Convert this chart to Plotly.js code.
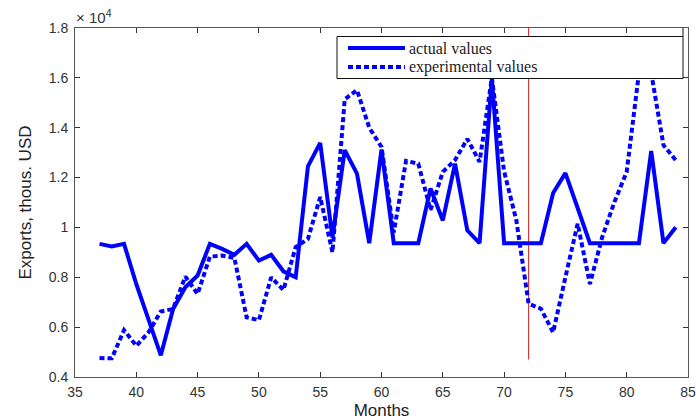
<!DOCTYPE html>
<html><head><meta charset="utf-8">
<script src="https://cdn.plot.ly/plotly-3.0.1.min.js"></script>
<style>body{margin:0;background:#fff}#chart{width:696px;height:420px}</style>
</head><body><div id="chart"></div>
<script>
const months = [37,38,39,40,41,42,43,44,45,46,47,48,49,50,51,52,53,54,55,56,57,58,59,60,61,62,63,64,65,66,67,68,69,70,71,72,73,74,75,76,77,78,79,80,81,82,83,84];
const actualValues = [9340,9240,9340,7730,6300,4870,6730,7600,8070,9340,9140,8900,9340,8670,8900,8240,8000,12450,13390,9600,13100,12160,9370,13130,9370,9370,9370,11560,10280,12560,9880,9370,16000,9370,9370,9370,9370,11380,12180,10780,9370,9370,9370,9370,9370,13070,9370,10010];
const experimentalValues = [4760,4750,5880,5250,5790,6630,6730,8030,7330,8830,8870,8780,6390,6280,8000,7490,9210,9540,11220,9000,15140,15510,14000,13230,9800,12670,12560,10700,12230,12700,13550,12630,16000,12250,10280,6940,6740,5790,8000,10150,7730,9610,11020,12230,16200,16200,13300,12700];
const seriesNames = ['actual values','experimental values'];
const xTickVals = [35,40,45,50,55,60,65,70,75,80,85];
const yTickVals = [4000,6000,8000,10000,12000,14000,16000,18000];
const yTickText = ['0.4','0.6','0.8','1','1.2','1.4','1.6','1.8'];
const markerMonths = [72,72];
const markerValues = [4700,18000];

// layout geometry (pixels)
const W = 696, H = 420, L = 75, R = 8, T = 28, B = 43;
const pw = W - L - R, ph = H - T - B;
const px = v => (v - L) / pw;
const py = v => (H - B - v) / ph;

const blue = '#0000ff';
const traces = [
  {x: markerMonths, y: markerValues, mode: 'lines', line: {color: 'rgb(215,30,30)', width: 1}, showlegend: false, hoverinfo: 'skip'},
  {x: months, y: actualValues, name: seriesNames[0], mode: 'lines', line: {color: blue, width: 4}},
  {x: months, y: experimentalValues, name: seriesNames[1], mode: 'lines', line: {color: blue, width: 4, dash: '5px,3px'}}
];

const axisCommon = {
  showgrid: false, zeroline: false, showline: true, linecolor: '#555', linewidth: 1,
  mirror: 'ticks', ticks: 'inside', ticklen: 5, tickcolor: '#333', tickwidth: 1,
  tickfont: {family: 'Liberation Sans, Arial, sans-serif', size: 14, color: '#333'}
};

const layout = {
  width: W, height: H,
  margin: {l: L, r: R, t: T, b: B, pad: 0},
  paper_bgcolor: '#fff', plot_bgcolor: '#fff',
  showlegend: false,
  xaxis: Object.assign({}, axisCommon, {
    range: [35, 85], tickvals: xTickVals, ticklabelstandoff: 2,
    title: {text: 'Months', font: {family: 'Liberation Sans, Arial, sans-serif', size: 17, color: '#222'}, standoff: 6}
  }),
  yaxis: Object.assign({}, axisCommon, {
    range: [4000, 18000], tickvals: yTickVals, ticktext: yTickText, ticklabelstandoff: 3,
    title: {text: 'Exports, thous. USD', font: {family: 'Liberation Sans, Arial, sans-serif', size: 17, color: '#222'}, standoff: 12}
  }),
  shapes: [
    {type: 'rect', xref: 'paper', yref: 'paper', x0: px(337), x1: px(683), y0: py(78.5), y1: py(36.5),
     fillcolor: '#fff', line: {color: '#111', width: 1}, layer: 'above'},
    {type: 'line', xref: 'paper', yref: 'paper', x0: px(683), x1: px(683), y0: py(36.5), y1: 1,
     line: {color: '#111', width: 1}, layer: 'above'},
    {type: 'line', xref: 'paper', yref: 'paper', x0: px(348), x1: px(405), y0: py(48), y1: py(48),
     line: {color: blue, width: 4}, layer: 'above'},
    {type: 'line', xref: 'paper', yref: 'paper', x0: px(348), x1: px(405), y0: py(67), y1: py(67),
     line: {color: blue, width: 4, dash: '5px,3px'}, layer: 'above'}
  ],
  annotations: [
    {xref: 'paper', yref: 'paper', x: px(407), y: py(48), xanchor: 'left', yanchor: 'middle', showarrow: false,
     text: seriesNames[0], font: {family: 'Liberation Serif, Times New Roman, serif', size: 16, color: '#222'}},
    {xref: 'paper', yref: 'paper', x: px(407), y: py(67), xanchor: 'left', yanchor: 'middle', showarrow: false,
     text: seriesNames[1], font: {family: 'Liberation Serif, Times New Roman, serif', size: 16, color: '#222'}},
    {xref: 'paper', yref: 'paper', x: px(74), y: py(16), xanchor: 'left', yanchor: 'middle', showarrow: false,
     text: '× 10<sup>4</sup>', font: {family: 'Liberation Sans, Arial, sans-serif', size: 15, color: '#333'}}
  ]
};

Plotly.newPlot('chart', traces, layout, {staticPlot: true, displayModeBar: false});
</script>
</body></html>
